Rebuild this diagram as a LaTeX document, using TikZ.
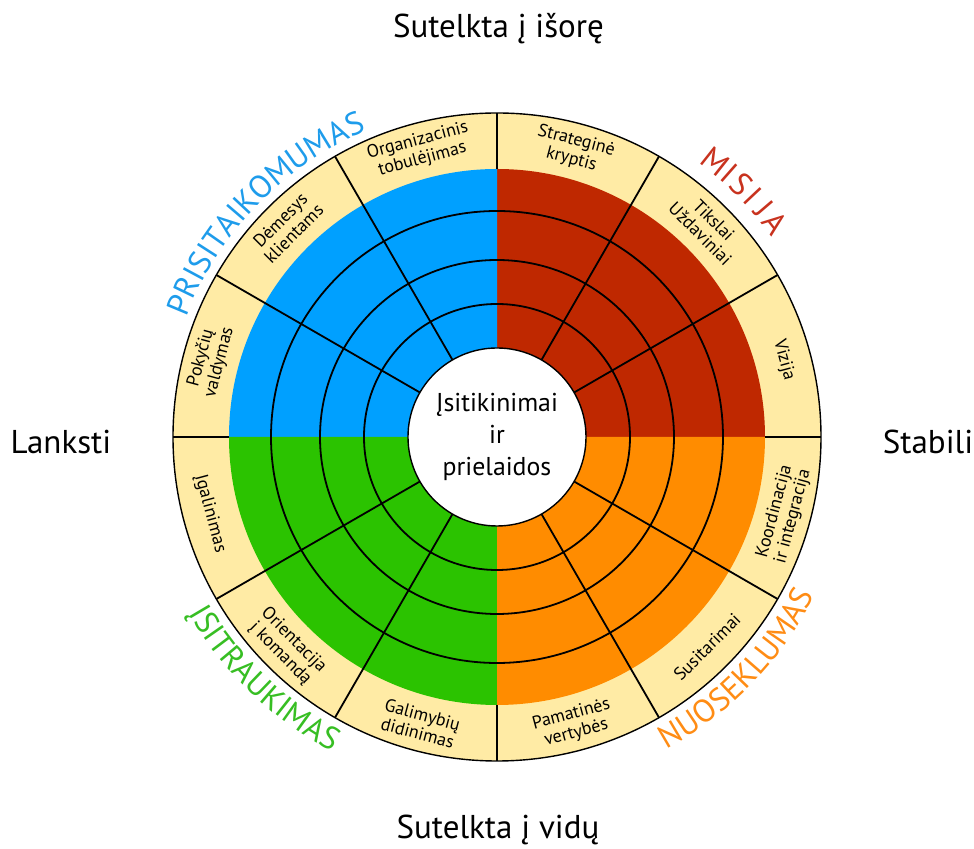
\documentclass[tikz,border=0pt]{standalone}
\usepackage{fontspec}
\setmainfont{PT Sans}
\usetikzlibrary{decorations.text}

\definecolor{beige}{HTML}{FFEBA5}
\definecolor{qblue}{HTML}{00A0FF}
\definecolor{qred}{HTML}{BF2800}
\definecolor{qgreen}{HTML}{2BC300}
\definecolor{qorange}{HTML}{FF8C00}
\definecolor{tblue}{HTML}{1E9CEB}
\definecolor{tred}{HTML}{C8321E}
\definecolor{tgreen}{HTML}{37BE23}
\definecolor{torange}{HTML}{FF8C14}

\tikzset{
  ringlbl/.style={font=\fontsize{9}{9.5}\selectfont, align=center, inner sep=0pt},
  title/.style={font=\fontsize{16.5}{18}\selectfont, anchor=base},
  core/.style={circle, draw, fill=white, line width=0.7pt, minimum size=89pt, inner sep=0pt,
    align=center, font=\fontsize{12.9}{16}\selectfont},
  grid/.style={line width=0.9pt},
}

\begin{document}
\begin{tikzpicture}[x=0.5pt,y=0.5pt]
\useasboundingbox (-497,-412) rectangle (477,437);

% beige outer ring
\filldraw[fill=beige, draw=black, line width=0.7pt] (0,0) circle[radius=324];

% four quadrants
\fill[qred] (0,0) -- (0:268) arc[start angle=0, end angle=90, radius=268] -- cycle;
\fill[qblue] (0,0) -- (90:268) arc[start angle=90, end angle=180, radius=268] -- cycle;
\fill[qgreen] (0,0) -- (180:268) arc[start angle=180, end angle=270, radius=268] -- cycle;
\fill[qorange] (0,0) -- (270:268) arc[start angle=270, end angle=360, radius=268] -- cycle;

% rings and spokes
\foreach \r in {133,177,226} \draw[grid] (0,0) circle[radius=\r];
\foreach \a in {30,60,120,150,210,240,300,330} \draw[grid] (\a:89) -- (\a:324);
\foreach \a in {0,90,180,270} \draw[grid] (\a:268) -- (\a:324);

\node[core] (core) at (0,0) {Įsitikinimai\\ir\\prielaidos};

% labels in the beige ring
\foreach \a/\n/\t in {105/orgtob/{Organizacinis\\tobulėjimas}, 135/klient/{Dėmesys\\klientams},
    165/pokyc/{Pokyčių\\valdymas}, 75/strat/{Strateginė\\kryptis}, 45/tiksl/{Tikslai\\Uždaviniai},
    15/vizij/{Vizija}, 345/koord/{Koordinacija\\ir integracija}, 315/susit/{Susitarimai},
    285/pamat/{Pamatinės\\vertybės}, 255/galim/{Galimybių\\didinimas},
    225/orien/{Orientacija\\į komandą}, 195/igal/{Įgalinimas}} {
  \pgfmathsetmacro\rot{\a<180 ? \a-90 : \a+90}
  \node[ringlbl, rotate=\rot] (\n) at (\a:297) {\t};
}

% trait names round the circle
\path[decorate, decoration={text along path, text align=center,
    text={|\fontsize{16}{18}\selectfont\color{tblue}|PRISITAIKOMUMAS}}]
  (181:333) arc[start angle=181, end angle=91, radius=333];
\foreach \l/\a [count=\i] in {M/51.6, I/48.6, S/46, I/43.2, J/40.6, A/37.6}
  \node[anchor=base, rotate=\a-90, inner sep=0pt, text=tred, font=\fontsize{16}{18}\selectfont]
    (mis\i) at (\a:340) {\l};
\path[decorate, decoration={text along path, text align=center,
    text={|\fontsize{16}{18}\selectfont\color{tgreen}|ĮSITRAUKIMAS}}]
  (181:355) arc[start angle=181, end angle=271, radius=355];
\path[decorate, decoration={text along path, text align=center,
    text={|\fontsize{16}{18}\selectfont\color{torange}|NUOSEKLUMAS}}]
  (-89:355) arc[start angle=-89, end angle=1, radius=355];

% axis titles
\node[title] (isore) at (1.5,399) {Sutelkta į išorę};
\node[title] (vidu) at (1,-402) {Sutelkta į vidų};
\node[title] (lanksti) at (-436,-17) {Lanksti};
\node[title] (stabili) at (431,-17) {Stabili};
\end{tikzpicture}
\end{document}
